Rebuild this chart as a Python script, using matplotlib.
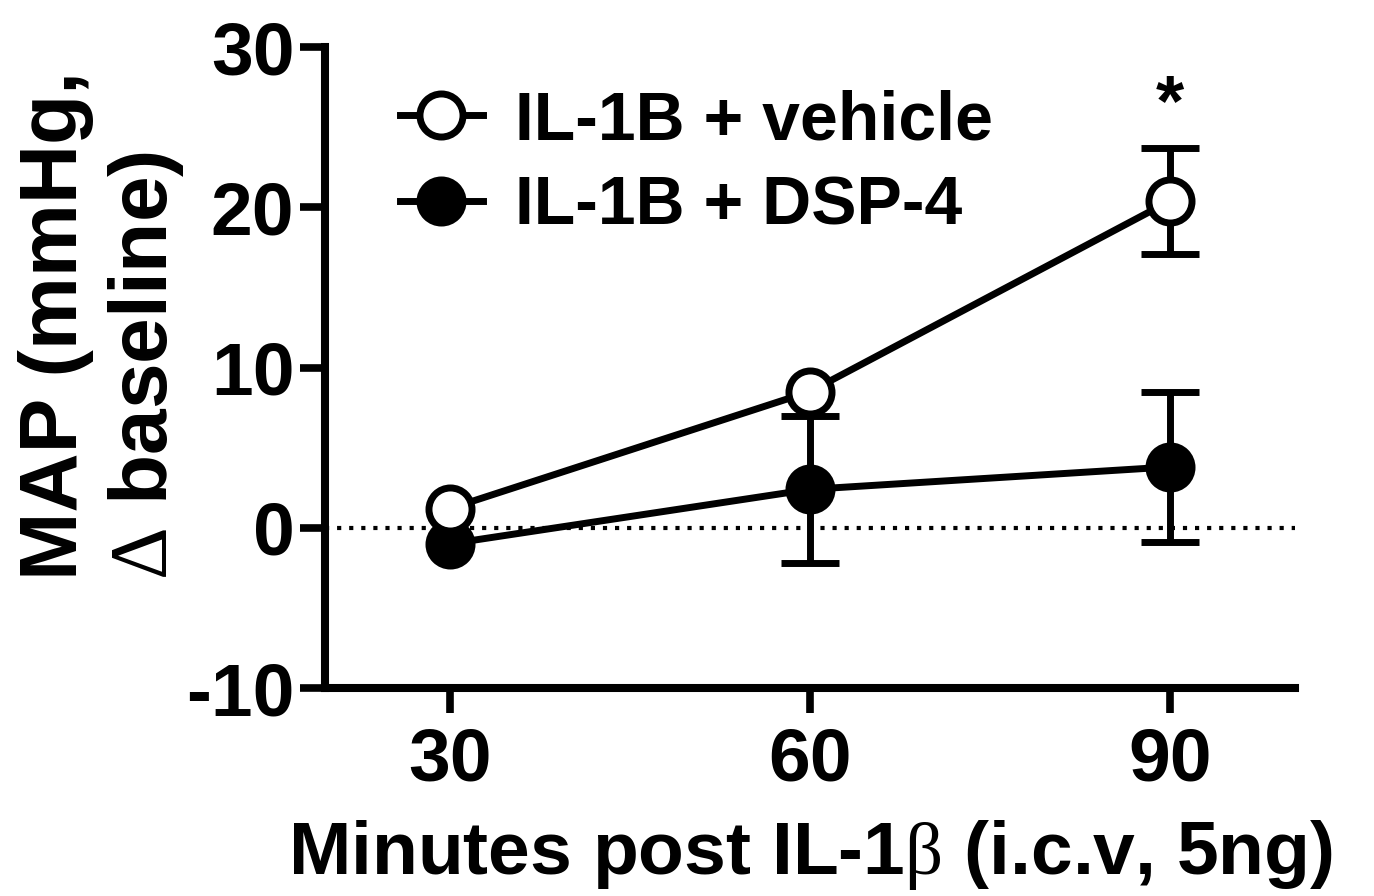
import matplotlib.pyplot as plt
from matplotlib.lines import Line2D

# data
minutes = [30, 60, 90]
vehicle_mean = [1.2, 8.5, 20.4]
vehicle_sem = [0.0, 0.0, 3.3]
dsp4_mean = [-1.0, 2.4, 3.8]
dsp4_sem = [0.0, 4.6, 4.7]
labels = ['IL-1B + vehicle', 'IL-1B + DSP-4']
yticks = [-10, 0, 10, 20, 30]

plt.rcParams['font.family'] = ['Liberation Sans', 'DejaVu Sans']
plt.rcParams['font.weight'] = 'bold'
plt.rcParams['axes.unicode_minus'] = False
plt.rcParams['mathtext.fontset'] = 'custom'
plt.rcParams['mathtext.rm'] = 'Liberation Serif:weight=normal'
plt.rcParams['mathtext.it'] = 'Liberation Serif:weight=normal'

fig = plt.figure(figsize=(13.74, 8.96), dpi=100)
ax = fig.add_axes([0.2365, 0.2321, 0.706, 0.7154])

lw = 5
ax.axhline(0, color='black', linestyle=(0, (1, 1.9)), linewidth=3, zorder=1)

ax.errorbar(minutes, dsp4_mean, yerr=dsp4_sem, color='black', marker='o',
            markersize=31, markerfacecolor='black', markeredgewidth=lw,
            linewidth=lw, elinewidth=lw, capsize=21, capthick=lw, zorder=3,
            errorevery=[e > 0 for e in dsp4_sem])
ax.errorbar(minutes, vehicle_mean, yerr=vehicle_sem, color='black', marker='o',
            markersize=31, markerfacecolor='white', markeredgewidth=lw,
            linewidth=lw, elinewidth=lw, capsize=21, capthick=lw, zorder=4,
            errorevery=[e > 0 for e in vehicle_sem])

ax.text(90, 26.3, '*', ha='center', va='center', fontsize=52, fontweight='bold')

ax.set_xlim(19.6, 100.4)
ax.set_ylim(-10, 30)
ax.set_xticks(minutes)
ax.set_yticks(yticks)
ax.tick_params(axis='both', length=18, width=5.5, labelsize=54)
ax.tick_params(axis='x', pad=10)
ax.tick_params(axis='y', pad=4)
for s in ['top', 'right']:
    ax.spines[s].set_visible(False)
for s in ['left', 'bottom']:
    ax.spines[s].set_linewidth(5.8)

ax.set_xlabel('Minutes post IL-1$\\mathrm{β}$ (i.c.v, 5ng)', fontsize=54,
              fontweight='bold', labelpad=16)
ax.set_ylabel('MAP (mmHg,\n$\\mathrm{Δ}$ baseline)', fontsize=59,
              fontweight='bold', linespacing=1.2, multialignment='left')
ax.yaxis.set_label_coords(-0.143, 0.566)

handles = [
    Line2D([], [], color='black', marker='o', markersize=31, markerfacecolor='white',
           markeredgewidth=lw, linewidth=lw),
    Line2D([], [], color='black', marker='o', markersize=31, markerfacecolor='black',
           markeredgewidth=lw, linewidth=lw),
]
ax.legend(handles, labels, loc='upper left', bbox_to_anchor=(0.035, 0.998),
          frameon=False, fontsize=49, handlelength=1.22, handletextpad=0.48,
          labelspacing=0.32, borderaxespad=0.2)

fig.savefig('out.png', dpi=100)
